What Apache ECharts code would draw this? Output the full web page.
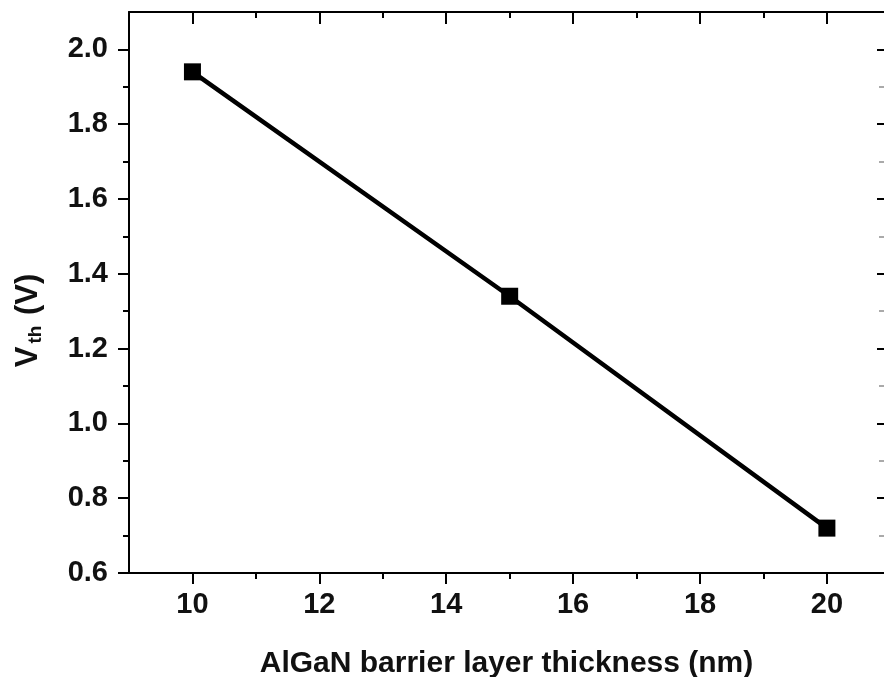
<!DOCTYPE html>
<html>
<head>
<meta charset="utf-8">
<script src="https://cdn.jsdelivr.net/npm/echarts@6/dist/echarts.min.js"></script>
<style>
  html, body { margin: 0; padding: 0; background: #fff; }
  #chart { width: 884px; height: 677px; }
</style>
</head>
<body>
<div id="chart"></div>
<script>
// data
const thickness = [10, 15, 20];
const vth = [1.94, 1.34, 0.72];

// tick positions
const xMajorTicks = [10, 12, 14, 16, 18, 20];
const xMinorTicks = [11, 13, 15, 17, 19];
const yMajorTicks = [0.6, 0.8, 1.0, 1.2, 1.4, 1.6, 1.8, 2.0];
const yMinorTicks = [0.7, 0.9, 1.1, 1.3, 1.5, 1.7, 1.9];

const FONT = '"Liberation Sans", Arial, sans-serif';
const lineStyle = { color: '#000', width: 2 };

const chart = echarts.init(document.getElementById('chart'));

// axis that only draws ticks (minor ticks / mirror ticks)
function tickAxis(position, values, len, inside, range, color) {
  return Object.assign({
    type: 'value',
    position: position,
    axisLine: { show: false },
    axisLabel: { show: false },
    axisTick: {
      show: true, inside: inside, length: len,
      lineStyle: { color: color || '#000', width: 2 },
      customValues: values
    },
    splitLine: { show: false }
  }, range);
}

// the plot is cut off at the right edge of the original image
const xRange = { min: 9, max: 20.9 };
const yRange = { min: 0.6, max: 2.1 };

const option = {
  animation: false,
  backgroundColor: '#fff',
  grid: { left: 129, top: 12, right: 0, bottom: 104, outerBoundsMode: 'none', containLabel: false },
  xAxis: [
    Object.assign({
      type: 'value',
      position: 'bottom',
      name: 'AlGaN barrier layer thickness (nm)',
      nameLocation: 'middle',
      nameGap: 76,
      nameTextStyle: { fontFamily: FONT, fontWeight: 'bold', fontSize: 30, color: '#111' },
      axisLine: { show: true, onZero: false, lineStyle: lineStyle },
      axisTick: { show: true, inside: false, length: 11, lineStyle: lineStyle, customValues: xMajorTicks },
      axisLabel: {
        show: true, margin: 17, customValues: xMajorTicks,
        fontFamily: FONT, fontWeight: 'bold', fontSize: 29, color: '#111'
      },
      splitLine: { show: false }
    }, xRange),
    tickAxis('bottom', xMinorTicks, 6, false, xRange),
    Object.assign({
      type: 'value',
      position: 'top',
      axisLine: { show: true, onZero: false, lineStyle: lineStyle },
      axisTick: { show: true, inside: true, length: 12, lineStyle: lineStyle, customValues: xMajorTicks },
      axisLabel: { show: false },
      splitLine: { show: false }
    }, xRange),
    tickAxis('top', xMinorTicks, 6, true, xRange)
  ],
  yAxis: [
    Object.assign({
      type: 'value',
      position: 'left',
      name: '{v|V}{s|th}{v| (V)}',
      nameLocation: 'middle',
      nameGap: 84,
      nameTextStyle: {
        padding: [0, 56, 0, 0],
        rich: {
          v: { fontFamily: FONT, fontWeight: 'bold', fontSize: 31, color: '#111', lineHeight: 34 },
          s: { fontFamily: FONT, fontWeight: 'bold', fontSize: 19, color: '#111', lineHeight: 34, verticalAlign: 'bottom', padding: [16, 2, 0, 3] }
        }
      },
      axisLine: { show: true, onZero: false, lineStyle: lineStyle },
      axisTick: { show: true, inside: false, length: 11, lineStyle: lineStyle, customValues: yMajorTicks },
      axisLabel: {
        show: true, margin: 21, customValues: yMajorTicks,
        formatter: v => v.toFixed(1),
        fontFamily: FONT, fontWeight: 'bold', fontSize: 29, color: '#111'
      },
      splitLine: { show: false }
    }, yRange),
    tickAxis('left', yMinorTicks, 6, false, yRange),
    tickAxis('right', yMajorTicks, 7, true, yRange),
    tickAxis('right', yMinorTicks, 5, true, yRange, '#aaa')
  ],
  series: [
    {
      type: 'line',
      data: thickness.map((t, i) => [t, vth[i]]),
      xAxisIndex: 0,
      yAxisIndex: 0,
      symbol: 'rect',
      symbolSize: 17,
      itemStyle: { color: '#000' },
      lineStyle: { color: '#000', width: 4.5 },
      z: 5
    }
  ]
};

chart.setOption(option);
</script>
</body>
</html>
